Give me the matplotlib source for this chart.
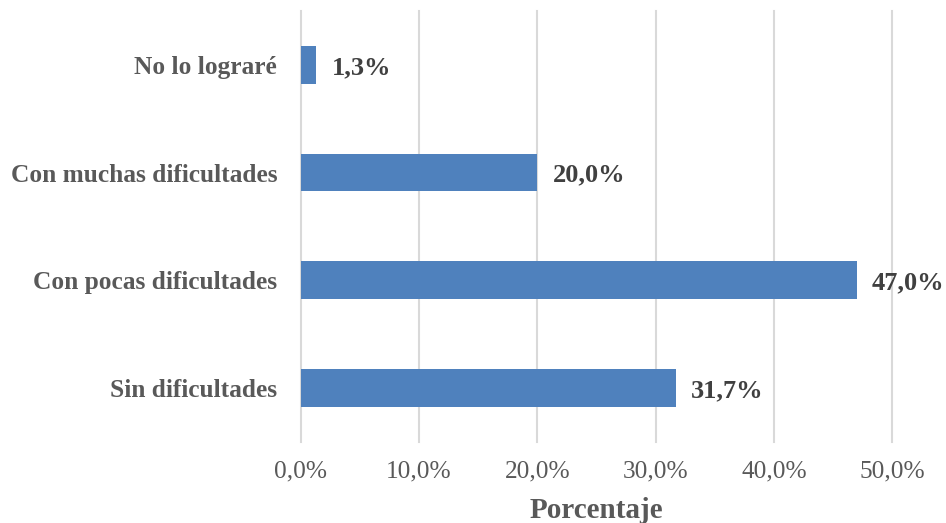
import matplotlib.pyplot as plt

categories = ["Sin dificultades", "Con pocas dificultades", "Con muchas dificultades", "No lo lograré"]
values = [31.7, 47.0, 20.0, 1.3]
xticks = [0, 10, 20, 30, 40, 50]
xtick_labels = ["0,0%", "10,0%", "20,0%", "30,0%", "40,0%", "50,0%"]

plt.rcParams['font.family'] = ['Liberation Serif', 'DejaVu Serif']

fig = plt.figure(figsize=(9.46, 5.23), dpi=100)
ax = fig.add_axes([0.318, 0.155, 0.625, 0.824])

ypos = list(range(len(categories)))
ax.barh(ypos, values, height=0.35, color="#4f81bd", zorder=3)
for y, v in zip(ypos, values):
    ax.text(v + 1.3, y, f"{v:.1f}%".replace(".", ","), va="center_baseline", ha="left",
            fontsize=19, fontweight="bold", color="#404040")

ax.set_xlim(0, 50)
ax.set_ylim(-0.5, 3.5)
ax.set_yticks(ypos)
ax.set_yticklabels(categories, fontsize=18.3, fontweight="bold", color="#595959")
ax.set_xticks(xticks)
ax.set_xticklabels(xtick_labels, fontsize=18.3, color="#595959")
ax.tick_params(axis="both", length=0)
ax.tick_params(axis="y", pad=17)
ax.tick_params(axis="x", pad=13)
ax.xaxis.grid(True, color="#d9d9d9", linewidth=1.5, zorder=0)
for gl in ax.get_xgridlines():
    gl.set_clip_on(False)
for s in ax.spines.values():
    s.set_visible(False)
ax.set_xlabel("Porcentaje", fontsize=21, fontweight="bold", color="#595959", labelpad=11)

fig.savefig("out.png", dpi=100)
